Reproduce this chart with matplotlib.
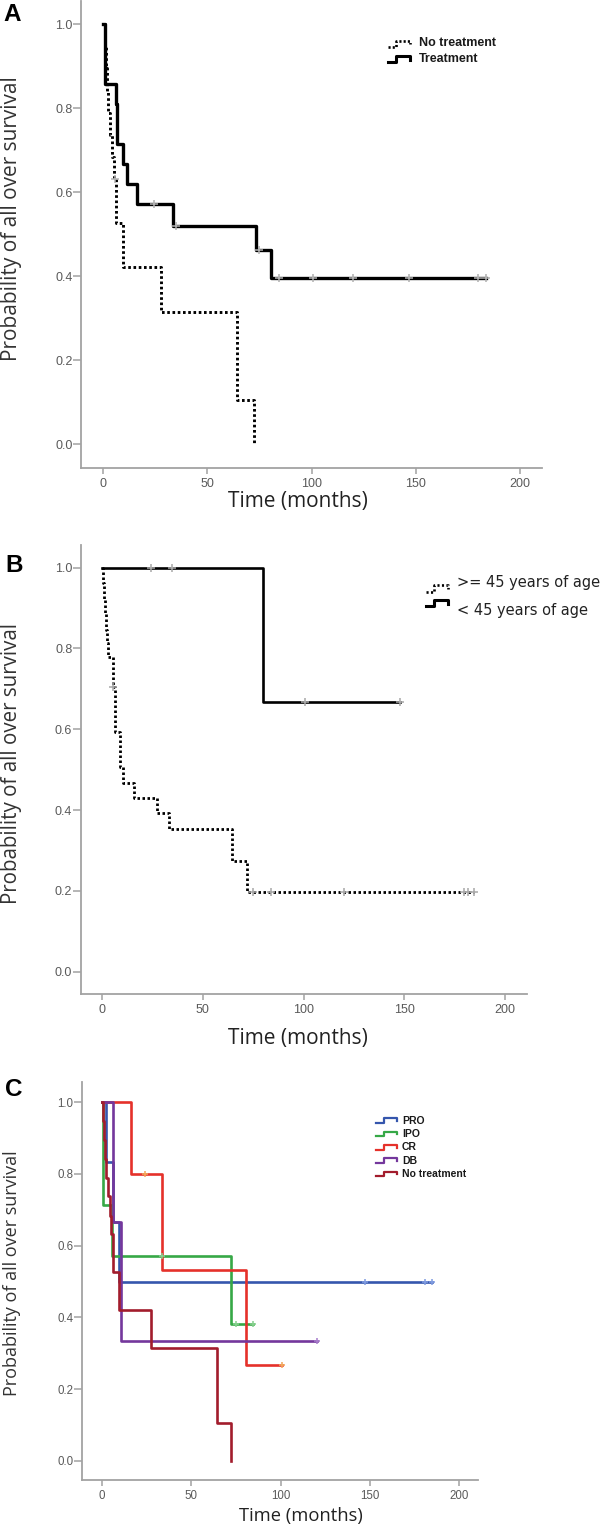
import matplotlib
matplotlib.use("Agg")
import matplotlib.pyplot as plt
from matplotlib.lines import Line2D

# ---------------- data ----------------
x_ticks = [0, 50, 100, 150, 200]
y_ticks = [0.0, 0.2, 0.4, 0.6, 0.8, 1.0]

# Panel A
notreat_t = [0, 0.5, 1.0, 1.5, 2.3, 3.1, 4.2, 5.0, 6.2, 9.3, 27.6, 64.3, 72.2]
notreat_s = [1.0, 0.947, 0.895, 0.842, 0.789, 0.737, 0.684, 0.632, 0.526, 0.421, 0.316, 0.105, 0.0]
notreat_cens_t = [5.5]
notreat_cens_s = [0.632]

treat_t = [0, 0.7, 6.0, 6.6, 9.5, 11.1, 16.0, 33.3, 73.2, 80.4, 184.0]
treat_s = [1.0, 0.857, 0.810, 0.714, 0.667, 0.619, 0.571, 0.520, 0.462, 0.397, 0.397]
treat_cens_t = [24.4, 34.7, 74.9, 84.5, 100.9, 120.1, 146.9, 180.2, 183.9]
treat_cens_s = [0.571, 0.520, 0.462, 0.397, 0.397, 0.397, 0.397, 0.397, 0.397]

# Panel B
old_t = [0, 0.3, 0.8, 1.3, 2.0, 2.6, 3.0, 5.2, 6.3, 8.8, 10.4, 15.7, 27.0, 33.1, 64.3, 72.0, 184.8]
old_s = [1.0, 0.962, 0.923, 0.885, 0.846, 0.813, 0.780, 0.705, 0.594, 0.507, 0.468, 0.431,
         0.392, 0.352, 0.274, 0.196, 0.196]
old_cens_t = [5.5, 74.8, 84.0, 119.9, 179.5, 181.6, 184.8]
old_cens_s = [0.705, 0.196, 0.196, 0.196, 0.196, 0.196, 0.196]

young_t = [0, 80.0, 147.9]
young_s = [1.0, 0.667, 0.667]
young_cens_t = [24.0, 34.8, 100.7, 147.9]
young_cens_s = [1.0, 1.0, 0.667, 0.667]

# Panel C
c_groups = ["PRO", "IPO", "CR", "DB", "No treatment"]
pro_t = [0, 2.2, 6.3, 9.5, 184.7]
pro_s = [1.0, 0.833, 0.667, 0.5, 0.5]
pro_cens_t = [147.3, 181.0, 184.7]
pro_cens_s = [0.5, 0.5, 0.5]

ipo_t = [0, 0.5, 5.5, 72.3, 84.8]
ipo_s = [1.0, 0.714, 0.571, 0.381, 0.381]
ipo_cens_t = [33.4, 75.0, 84.8]
ipo_cens_s = [0.571, 0.381, 0.381]

cr_t = [0, 16.1, 33.4, 80.5, 100.7]
cr_s = [1.0, 0.8, 0.533, 0.267, 0.267]
cr_cens_t = [24.1, 100.7]
cr_cens_s = [0.8, 0.267]

db_t = [0, 6.0, 10.7, 120.3]
db_s = [1.0, 0.667, 0.333, 0.333]
db_cens_t = [120.3]
db_cens_s = [0.333]

c_colors = ["#3556ad", "#36a846", "#e5312a", "#74379c", "#a21c2c"]
c_cens_colors = ["#7f9be0", "#86d08e", "#f2a65a", "#a77ccb", "#c66a72"]

# ---------------- figure ----------------
plt.rcParams["font.family"] = ["Liberation Sans", "DejaVu Sans"]
W, H = 610, 1528
fig = plt.figure(figsize=(W / 100, H / 100), dpi=100)

GRAY = "#a2a2a2"
TICKC = "#5a5a5a"


def fx(x):
    return x / W


def fy(y):
    return 1 - y / H


def px_axes(l, r, t, b):
    return fig.add_axes([l / W, 1 - b / H, (r - l) / W, (b - t) / H])


def style(ax, xlim, ylim, fs):
    ax.set_xlim(xlim)
    ax.set_ylim(ylim)
    for s in ["top", "right"]:
        ax.spines[s].set_visible(False)
    for s in ["left", "bottom"]:
        ax.spines[s].set_color(GRAY)
        ax.spines[s].set_linewidth(1.3)
    ax.set_xticks(x_ticks)
    ax.set_xticklabels([str(v) for v in x_ticks])
    ax.set_yticks(y_ticks)
    ax.set_yticklabels([f"{v:.1f}" for v in y_ticks])
    ax.tick_params(axis="y", direction="out", length=5.5, width=1.1, color=GRAY,
                   labelsize=fs, labelcolor=TICKC, pad=0.5)
    ax.tick_params(axis="x", direction="out", length=4.5, width=1.1, color=GRAY,
                   labelsize=fs, labelcolor=TICKC, pad=2.5)
    ax.patch.set_alpha(0)


def icon(x0, x1, yc, h, **kw):
    xm = x0 + 0.38 * (x1 - x0)
    xs = [x0, xm, xm, x1, x1]
    ys = [yc + h / 2, yc + h / 2, yc - h / 2, yc - h / 2, yc + h * 0.1]
    ln = Line2D([fx(x) for x in xs], [fy(y) for y in ys], transform=fig.transFigure, **kw)
    fig.add_artist(ln)


DOT = (0, (0.9, 0.9))

# ---------------- Panel A ----------------
axA = px_axes(81, 542, 1, 468)
style(axA, (-10.8, 210.8), (-0.056, 1.055), 9)
axA.step(notreat_t, notreat_s, where="post", color="black", lw=2.1, linestyle=DOT, zorder=3)
axA.step(treat_t, treat_s, where="post", color="black", lw=2.4, zorder=3)
axA.plot(notreat_cens_t, notreat_cens_s, "+", color="#b0b0b0", ms=5.5, mew=1.1, zorder=4)
axA.plot(treat_cens_t, treat_cens_s, "+", color="#b0b0b0", ms=5.5, mew=1.1, zorder=4)

fig.text(fx(3), fy(21), "A", fontsize=17.5, weight="bold", va="baseline", ha="left")
fig.text(fx(12), fy(219), "Probability of all over survival", rotation=90, ha="center",
         va="center", fontsize=15, family="Open Sans", color="#333333")
fig.text(fx(298), fy(507), "Time (months)", ha="center", va="baseline", fontsize=15,
         family="Open Sans", color="#222222")
icon(388, 410, 43.5, 6, color="black", lw=1.9, linestyle=(0, (0.8, 0.8)))
icon(388, 410, 59, 6, color="black", lw=2.2)
fig.text(fx(419), fy(43.5), "No treatment", fontsize=9, weight="bold", va="center", ha="left",
         color="#1a1a1a")
fig.text(fx(419), fy(59.5), "Treatment", fontsize=9, weight="bold", va="center", ha="left",
         color="#1a1a1a")

# ---------------- Panel B ----------------
axB = px_axes(80.7, 526.8, 545, 994.3)
style(axB, (-10.7, 210.9), (-0.056, 1.056), 9)
axB.step(old_t, old_s, where="post", color="black", lw=2.0, linestyle=DOT, zorder=3)
axB.step(young_t, young_s, where="post", color="black", lw=1.9, zorder=3)
axB.plot(old_cens_t, old_cens_s, "+", color="#a8a8a8", ms=5.5, mew=1.1, zorder=4)
axB.plot(young_cens_t, young_cens_s, "+", color="#a8a8a8", ms=5.5, mew=1.1, zorder=4)

fig.text(fx(5), fy(572), "B", fontsize=17.5, weight="bold", va="baseline", ha="left")
fig.text(fx(12), fy(764), "Probability of all over survival", rotation=90, ha="center",
         va="center", fontsize=14.8, family="Open Sans", color="#333333")
fig.text(fx(298), fy(1044), "Time (months)", ha="center", va="baseline", fontsize=15,
         family="Open Sans", color="#222222")
icon(426, 448, 588, 7, color="black", lw=1.9, linestyle=(0, (0.8, 0.9)))
icon(426, 448, 603, 6, color="black", lw=2.2)
fig.text(fx(457), fy(583), ">= 45 years of age", fontsize=10.5, family="DejaVu Sans",
         va="center", ha="left", color="#222222")
fig.text(fx(457), fy(610), "< 45 years of age", fontsize=10.5, family="DejaVu Sans",
         va="center", ha="left", color="#222222")

# ---------------- Panel C ----------------
axC = px_axes(81.5, 478, 1082, 1480)
style(axC, (-11.5, 210.6), (-0.053, 1.056), 8.3)
c_t = [pro_t, ipo_t, cr_t, db_t, notreat_t]
c_s = [pro_s, ipo_s, cr_s, db_s, notreat_s]
c_ct = [pro_cens_t, ipo_cens_t, cr_cens_t, db_cens_t, []]
c_cs = [pro_cens_s, ipo_cens_s, cr_cens_s, db_cens_s, []]
for i, name in enumerate(c_groups):
    axC.step(c_t[i], c_s[i], where="post", color=c_colors[i], lw=1.9, zorder=3 + i * 0.1)
    if c_ct[i]:
        axC.plot(c_ct[i], c_cs[i], "+", color=c_cens_colors[i], ms=5, mew=1.1, zorder=5)

fig.text(fx(5), fy(1096.5), "C", fontsize=17.5, weight="bold", va="baseline", ha="left")
fig.text(fx(12.5), fy(1273), "Probability of all over survival", rotation=90, ha="center",
         va="center", fontsize=13, family="Open Sans", color="#333333")
fig.text(fx(300.5), fy(1521.5), "Time (months)", ha="center", va="baseline", fontsize=13.2,
         family="Open Sans", color="#222222")
for i, name in enumerate(c_groups):
    yc = 1120.7 + 13.3 * i
    icon(376, 397, yc, 4.5, color=c_colors[i], lw=1.6)
    fig.text(fx(402), fy(yc), name, fontsize=7.5, weight="bold", va="center", ha="left",
             color="#1a1a1a")

fig.savefig("out.png", dpi=100)
